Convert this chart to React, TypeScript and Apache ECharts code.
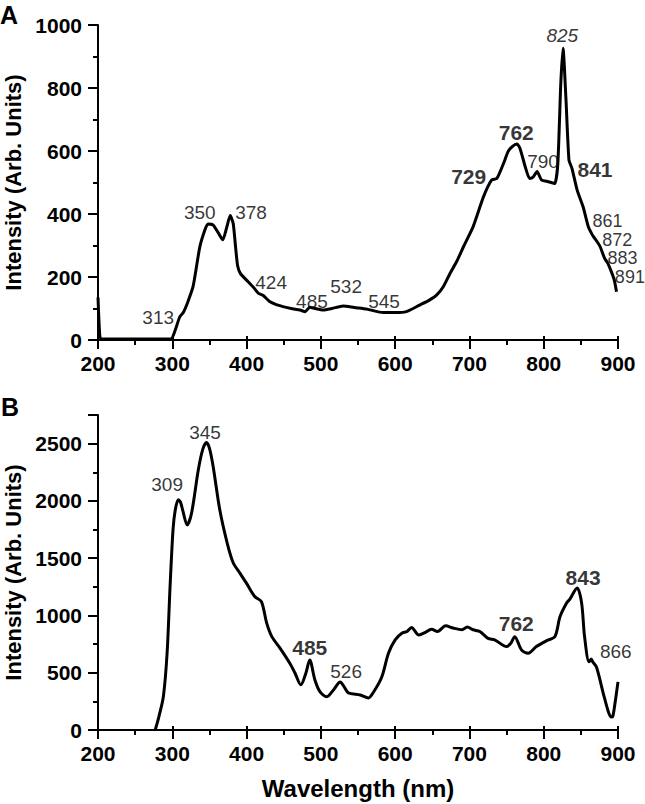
import React, { useEffect, useRef } from "react";
import * as echarts from "echarts";

// Panel A spectrum
const wavelengthsA = [200, 202, 204, 250, 298, 303, 310, 315, 320, 328, 337, 344, 348, 355, 362, 368, 373, 378, 382, 385, 388, 392, 400, 410, 416, 422, 431, 440, 449, 460, 472, 479, 485, 492, 503, 515, 530, 545, 562, 584, 600, 615, 633, 645, 656, 665, 674, 683, 692, 705, 719, 730, 737, 746, 752, 758, 764, 768, 775, 781, 786, 791, 797, 804, 810, 815, 819, 823, 826, 830, 834, 838, 845, 853, 860, 864, 867, 872, 876, 882, 886, 891, 895, 898];
const intensityA = [135, 30, 4, 3, 3, 25, 73, 88, 115, 170, 295, 350, 368, 365, 340, 318, 355, 395, 370, 300, 235, 210, 190, 165, 148, 142, 122, 112, 106, 100, 95, 90, 104, 100, 95, 100, 108, 103, 98, 87, 87, 90, 111, 125, 143, 170, 212, 250, 296, 360, 455, 508, 513, 561, 598, 615, 622, 609, 551, 513, 518, 535, 508, 504, 500, 497, 560, 815, 926, 762, 571, 545, 476, 423, 360, 340, 328, 312, 296, 259, 245, 217, 190, 153];

// Panel B spectrum
const wavelengthsB = [277, 282, 288, 293, 297, 301, 304, 308, 311, 314, 320, 326, 335, 341, 346, 350, 355, 364, 374, 382, 391, 400, 411, 420, 427, 434, 445, 458, 465, 473, 480, 485, 492, 499, 508, 517, 526, 532, 537, 553, 564, 571, 582, 591, 600, 609, 616, 622, 632, 640, 649, 657, 668, 678, 690, 697, 705, 714, 725, 734, 750, 756, 761, 770, 779, 790, 804, 815, 822, 831, 835, 845, 851, 855, 861, 864, 866, 871, 880, 887, 891, 893, 896, 900];
const intensityB = [0, 117, 292, 670, 1250, 1750, 1920, 2010, 1990, 1920, 1790, 1895, 2270, 2450, 2510, 2460, 2300, 1920, 1630, 1460, 1370, 1280, 1165, 1120, 935, 815, 715, 585, 500, 395, 500, 612, 437, 332, 290, 350, 420, 370, 325, 306, 280, 332, 463, 670, 787, 845, 860, 895, 830, 850, 880, 860, 910, 890, 875, 900, 875, 860, 800, 787, 728, 760, 815, 700, 670, 728, 780, 815, 990, 1110, 1140, 1240, 1110, 815, 595, 620, 595, 550, 325, 160, 113, 120, 235, 420];

// Peak annotations: text, anchor wavelength, anchor intensity, style
// (style: n = normal, b = bold, i = italic, s = small stacked)
const peakLabelsA = ["313", "350", "378", "424", "485", "532", "545", "729", "762", "790", "825", "841", "861", "872", "883", "891"];
const peakXA = [281, 337, 406, 433, 488, 534, 585, 699, 763, 799, 825, 869, 886, 899, 906, 916];
const peakYA = [73, 406, 406, 184, 121, 171, 121, 518, 660, 568, 968, 540, 377, 318, 259, 200];
const peakStyleA = ["n", "n", "n", "n", "n", "n", "n", "b", "b", "n", "i", "b", "s", "s", "s", "s"];

const peakLabelsB = ["309", "345", "485", "526", "762", "843", "866"];
const peakXB = [293, 344, 485, 534, 763, 853, 897];
const peakYB = [2140, 2595, 717, 507, 927, 1329, 682];
const peakStyleB = ["n", "n", "b", "n", "b", "b", "n"];

const xTicks = { min: 200, max: 900, interval: 100 };
const yTicksA = { min: 0, max: 1000, interval: 200 };
const yTicksB = { min: 0, max: 2750, interval: 500 };

const FONT = "'Liberation Sans', Arial, Helvetica, sans-serif";

function pairs(xs: number[], ys: number[]) {
  return xs.map((x, i) => [x, ys[i]]);
}

function annot(labels: string[], xs: number[], ys: number[], styles: string[]) {
  return labels.map((t, i) => ({
    value: [xs[i], ys[i]],
    label: {
      formatter: t,
      fontWeight: styles[i] === "b" ? "bold" : "normal",
      fontStyle: styles[i] === "i" ? "italic" : "normal",
      fontSize: styles[i] === "b" ? 21 : styles[i] === "s" ? 18 : 19,
      lineHeight: styles[i] === "s" ? 15 : 18,
    },
  }));
}

const plain = (v: number) => String(v);

function xAxisCfg(gridIndex: number, name: string) {
  return {
    type: "value",
    gridIndex,
    min: xTicks.min,
    max: xTicks.max,
    interval: xTicks.interval,
    name,
    nameLocation: "middle",
    nameGap: 46,
    nameTextStyle: { fontFamily: FONT, fontSize: 24, fontWeight: "bold", color: "#000" },
    axisLine: { show: true, onZero: false, lineStyle: { color: "#000", width: 2 } },
    axisTick: { show: true, inside: false, length: 9, lineStyle: { color: "#000", width: 2 } },
    minorTick: { show: true, splitNumber: 2, length: 5, lineStyle: { color: "#000", width: 2 } },
    axisLabel: { fontFamily: FONT, fontSize: 21, fontWeight: "bold", color: "#000", margin: 13, formatter: plain },
    splitLine: { show: false },
    minorSplitLine: { show: false },
  };
}

// duplicate axis drawing only the short inner part of the major ticks
function xAxisInnerTicks(gridIndex: number) {
  return {
    type: "value",
    gridIndex,
    min: xTicks.min,
    max: xTicks.max,
    interval: xTicks.interval,
    position: "bottom",
    axisLine: { show: false, onZero: false },
    axisTick: { show: true, inside: true, length: 4, lineStyle: { color: "#000", width: 2 } },
    minorTick: { show: false },
    axisLabel: { show: false },
    splitLine: { show: false },
  };
}

function yAxisCfg(gridIndex: number, t: { min: number; max: number; interval: number }) {
  return {
    type: "value",
    gridIndex,
    min: t.min,
    max: t.max,
    interval: t.interval,
    name: "Intensity (Arb. Units)",
    nameLocation: "middle",
    nameGap: 64,
    nameTextStyle: { fontFamily: FONT, fontSize: 22, fontWeight: "bold", color: "#000" },
    axisLine: { show: true, lineStyle: { color: "#000", width: 2 } },
    axisTick: { show: true, inside: false, length: 10, lineStyle: { color: "#000", width: 2 } },
    minorTick: { show: true, splitNumber: 2, length: 5, lineStyle: { color: "#000", width: 2 } },
    axisLabel: {
      fontFamily: FONT,
      fontSize: 21,
      fontWeight: "bold",
      color: "#000",
      margin: 16,
      formatter: plain,
      showMaxLabel: t.max % t.interval === 0,
    },
    splitLine: { show: false },
    minorSplitLine: { show: false },
  };
}

export default function App() {
  const ref = useRef<HTMLDivElement>(null);
  useEffect(() => {
    if (!ref.current) return;
    const chart = echarts.init(ref.current, null, { renderer: "svg" });
    const lineStyle = { color: "#000", width: 3 };
    const annotSeries = (xi: number, data: any[]) => ({
      type: "scatter",
      xAxisIndex: xi,
      yAxisIndex: xi,
      symbolSize: 0,
      clip: false,
      silent: true,
      itemStyle: { color: "transparent" },
      label: { show: true, position: "inside", color: "#000", fontFamily: FONT },
      data,
    });
    chart.setOption({
      animation: false,
      backgroundColor: "#fff",
      grid: [
        { left: 98, top: 25, width: 520, height: 315, outerBoundsMode: "none", containLabel: false },
        { left: 98, top: 415, width: 520, height: 315, outerBoundsMode: "none", containLabel: false },
      ],
      xAxis: [xAxisCfg(0, ""), xAxisCfg(1, "Wavelength (nm)"), xAxisInnerTicks(0), xAxisInnerTicks(1)],
      yAxis: [yAxisCfg(0, yTicksA), yAxisCfg(1, yTicksB)],
      graphic: [
        { type: "text", left: 0, top: 2, style: { text: "A", font: `bold 25px ${FONT}`, fill: "#000" } },
        { type: "text", left: 1, top: 394, style: { text: "B", font: `bold 25px ${FONT}`, fill: "#000" } },
      ],
      series: [
        {
          type: "line",
          xAxisIndex: 0,
          yAxisIndex: 0,
          data: pairs(wavelengthsA, intensityA),
          showSymbol: false,
          smooth: 0.2,
          lineStyle,
          silent: true,
        },
        {
          type: "line",
          xAxisIndex: 1,
          yAxisIndex: 1,
          data: pairs(wavelengthsB, intensityB),
          showSymbol: false,
          smooth: 0.3,
          lineStyle,
          silent: true,
        },
        annotSeries(0, annot(peakLabelsA, peakXA, peakYA, peakStyleA)),
        annotSeries(1, annot(peakLabelsB, peakXB, peakYB, peakStyleB)),
      ],
    });
    return () => chart.dispose();
  }, []);
  return (
    <div
      ref={ref}
      style={{ position: "fixed", left: 0, top: 0, width: 645, height: 804, background: "#fff" }}
    />
  );
}
